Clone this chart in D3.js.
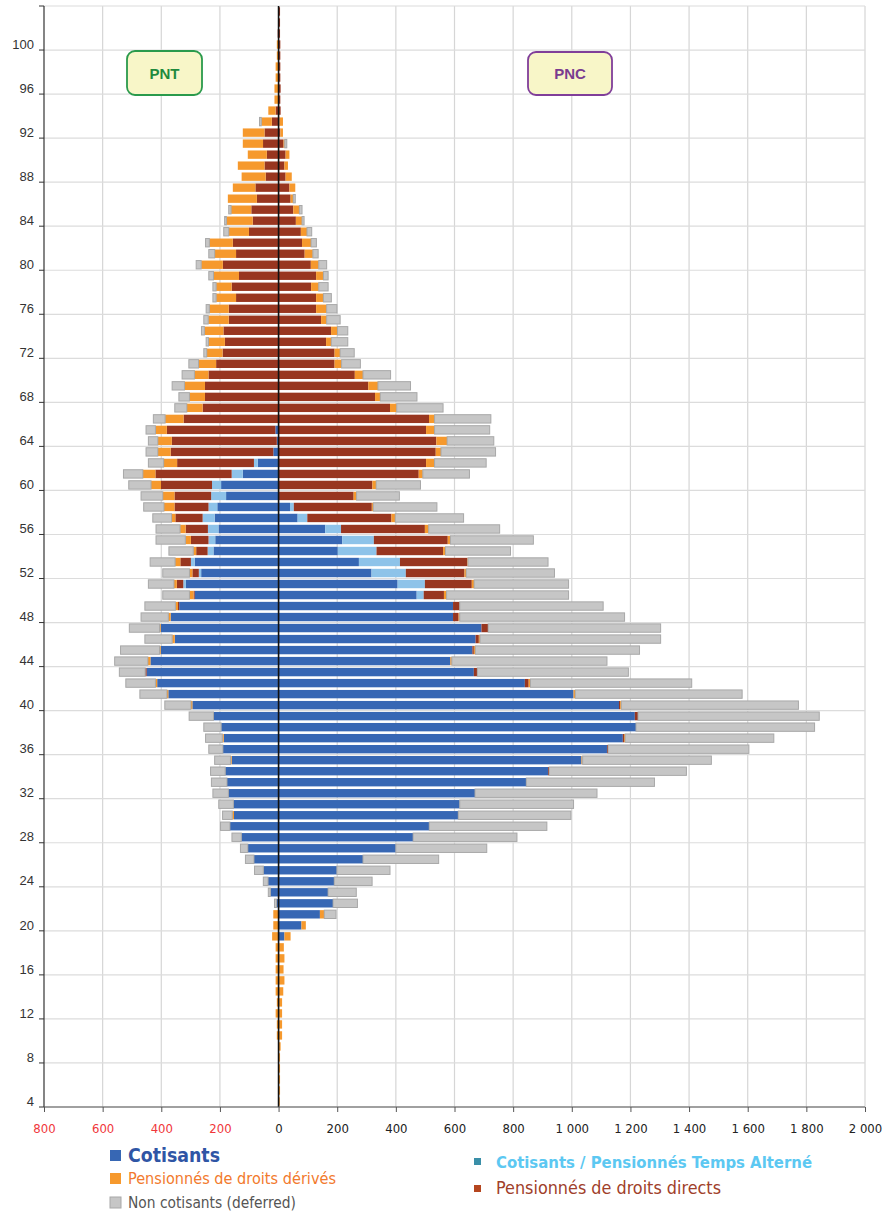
<!DOCTYPE html>
<html lang="fr">
<head>
<meta charset="UTF-8">
<title>Pyramide des âges PNT / PNC</title>
<script src="https://d3js.org/d3.v7.min.js"></script>
<style>
  body { margin: 0; background: #fff; }
  svg { display: block; font-family: "Liberation Sans", Arial, sans-serif; }
  .narrow { font-family: "Liberation Sans Narrow", "DejaVu Sans Condensed", "Liberation Sans", sans-serif; font-stretch: condensed; }
</style>
</head>
<body>
<div id="chart"></div>
<script>
// ages 4 .. 103, bottom to top
const ages = d3.range(4, 104);
const xTicks = [-800, -600, -400, -200, 0, 200, 400, 600, 800, 1000, 1200, 1400, 1600, 1800, 2000];
const ageTicks = [4, 8, 12, 16, 20, 24, 28, 32, 36, 40, 44, 48, 52, 56, 60, 64, 68, 72, 76, 80, 84, 88, 92, 96, 100];

// PNC (right side), one value per age, rows of 10 ages starting at 4
const pncCotisants = [
  0,0,0,0,0,0,0,0,0,0,
  0,0,0,0,0,20,78,141,186,169,
  190,199,288,400,459,514,613,618,670,845,
  919,1033,1120,1174,1219,1215,1161,1006,840,666,
  586,661,672,692,595,595,471,406,317,274,
  202,217,159,65,39,0,0,0,0,0,
  0,0,0,0,0,0,0,0,0,0,
  0,0,0,0,0,0,0,0,0,0,
  0,0,0,0,0,0,0,0,0,0,
  0,0,0,0,0,0,0,0,0,0];
const pncAlterne = [
  0,0,0,0,0,0,0,0,0,0,
  0,0,0,0,0,0,0,0,0,0,
  0,0,0,0,0,0,0,0,0,0,
  0,0,0,0,0,0,0,0,0,0,
  0,0,0,0,0,0,24,93,117,140,
  132,108,54,33,13,0,0,0,0,0,
  0,0,0,0,0,0,0,0,0,0,
  0,0,0,0,0,0,0,0,0,0,
  0,0,0,0,0,0,0,0,0,0,
  0,0,0,0,0,0,0,0,0,0];
const pncDirects = [
  0,0,0,0,0,0,0,0,0,0,
  0,0,0,0,0,0,0,0,0,0,
  0,0,0,0,0,0,0,0,0,0,
  4,0,4,4,0,11,4,0,13,12,
  0,5,11,23,19,23,69,160,200,230,
  227,252,286,287,266,256,320,478,503,536,
  538,503,513,380,329,306,260,191,191,162,
  179,145,128,128,111,128,110,89,80,76,
  59,50,41,37,24,20,24,17,6,3,
  7,6,7,6,6,6,6,5,5,5];
const pncDerives = [
  4,5,5,5,5,7,12,12,12,12,
  16,20,17,20,18,21,15,15,0,0,
  0,0,0,0,0,0,0,0,0,0,
  0,4,0,4,0,0,4,6,6,0,
  5,5,4,0,4,0,9,8,6,2,
  8,9,13,13,5,10,13,14,29,18,
  37,29,19,23,18,33,28,24,19,18,
  22,19,36,25,26,25,27,28,31,21,
  21,21,9,20,21,12,13,4,9,12,
  0,0,0,0,0,0,0,0,0,0];
const pncNonCotisants = [
  0,0,0,0,0,0,0,0,0,0,
  0,0,0,0,0,0,0,40,83,96,
  129,181,258,310,354,401,384,388,416,437,
  468,439,480,507,609,618,604,569,550,515,
  529,560,616,588,562,489,416,322,301,273,
  222,283,242,233,217,146,151,159,176,186,
  159,188,192,158,125,111,94,64,48,56,
  35,46,35,27,32,16,27,18,18,16,
  7,9,7,0,0,0,0,7,0,0,
  0,0,0,0,0,0,0,0,0,0];

// PNT (left side)
const pntCotisants = [
  0,0,0,0,0,0,0,0,0,0,
  0,0,0,0,0,0,0,0,7,28,
  36,52,84,105,127,166,152,154,171,176,
  182,160,190,187,196,222,294,376,414,450,
  437,402,354,402,368,339,286,316,264,286,
  222,216,205,218,209,179,196,122,71,18,
  6,11,0,0,0,0,0,0,0,0,
  0,0,0,0,0,0,0,0,0,0,
  0,0,0,0,0,0,0,0,0,0,
  0,0,0,0,0,0,0,0,0,0];
const pntAlterne = [
  0,0,0,0,0,0,0,0,0,0,
  0,0,0,0,0,0,0,0,0,0,
  0,0,0,0,0,0,0,0,0,0,
  0,0,0,0,0,0,0,0,0,0,
  0,0,0,0,0,0,0,9,8,13,
  20,23,36,41,30,51,31,38,13,0,
  0,0,0,0,0,0,0,0,0,0,
  0,0,0,0,0,0,0,0,0,0,
  0,0,0,0,0,0,0,0,0,0,
  0,0,0,0,0,0,0,0,0,0];
const pntDirects = [
  0,0,0,0,0,0,0,0,0,0,
  0,0,0,0,0,0,0,0,0,0,
  0,0,0,0,0,0,0,0,0,0,
  0,0,0,0,0,0,0,0,0,5,
  0,0,0,0,0,4,4,22,22,36,
  39,60,76,93,116,125,174,260,262,350,
  358,370,324,259,251,251,239,213,191,183,
  188,170,170,145,160,135,190,145,156,101,
  88,93,74,79,44,48,40,53,48,23,
  10,0,0,0,0,0,0,3,2,2];
const pntDerives = [
  2,2,2,2,2,2,6,6,10,6,
  10,10,10,10,10,22,18,18,0,0,
  0,0,0,0,0,0,6,0,0,0,
  0,4,0,5,0,0,5,5,6,0,
  9,4,9,4,8,9,14,10,10,18,
  10,19,19,13,36,40,34,43,46,44,
  48,39,63,54,53,70,48,60,54,56,
  65,70,66,68,53,87,74,73,80,69,
  90,69,99,77,82,91,65,69,74,36,
  25,14,14,10,10,6,6,0,0,0];
const pntNonCotisants = [
  0,0,0,0,0,0,0,0,0,0,
  0,0,0,0,0,0,0,0,7,7,
  16,30,29,25,32,32,33,50,53,53,
  50,54,48,57,59,83,89,92,101,88,
  113,133,93,103,93,104,91,87,91,85,
  83,100,82,64,69,74,76,66,52,40,
  32,32,40,41,36,42,42,33,10,8,
  10,15,11,11,11,16,17,20,13,17,
  6,8,0,0,0,0,0,0,0,6,
  0,0,0,0,0,0,0,0,0,0];

const keys = ["cot", "alt", "dir", "der", "non"];
const fill = { cot: "#3767b4", alt: "#8ec3e9", dir: "#983620", der: "#f6992d", non: "#c6c6c6" };

const W = 894, H = 1211;
const svg = d3.select("#chart").append("svg").attr("width", W).attr("height", H);

const x = d3.scaleLinear().domain([-800, 2000]).range([44, 865]);
const y = d3.scaleBand().domain(ages).range([1107, 6]).paddingInner(0.24).paddingOuter(0.12);
const step = y.step();

// gridlines
const grid = svg.append("g");
grid.selectAll("line.v").data(xTicks.slice(1)).enter().append("line")
  .attr("x1", d => x(d)).attr("x2", d => x(d)).attr("y1", 6).attr("y2", 1107)
  .attr("stroke", "#d6d6d6").attr("stroke-width", 1.2);
const hLines = d3.range(0, 26).map(k => 1107 - k * 4 * step);
grid.selectAll("line.h").data(hLines).enter().append("line")
  .attr("x1", 44).attr("x2", 865).attr("y1", d => d).attr("y2", d => d)
  .attr("stroke", "#dcdcdc").attr("stroke-width", 1.2);

function rows(c, a, d, r, n) {
  return ages.map((age, i) => ({ age, cot: c[i], alt: a[i], dir: d[i], der: r[i], non: n[i] }));
}
const stack = d3.stack().keys(keys);
const right = stack(rows(pncCotisants, pncAlterne, pncDirects, pncDerives, pncNonCotisants));
const left = stack(rows(pntCotisants, pntAlterne, pntDirects, pntDerives, pntNonCotisants));

function drawSide(series, sign) {
  const g = svg.append("g");
  series.forEach(s => {
    const isGrey = s.key === "non";
    g.selectAll(null).data(s.filter(d => d[1] - d[0] > 0)).enter().append("rect")
      .attr("x", d => sign > 0 ? x(d[0]) : x(-d[1]))
      .attr("width", d => Math.abs(x(d[1]) - x(d[0])))
      .attr("y", d => y(d.data.age))
      .attr("height", y.bandwidth())
      .attr("fill", fill[s.key])
      .attr("stroke", isGrey ? "#a8a8a8" : "none")
      .attr("stroke-width", isGrey ? 1 : 0);
  });
}
drawSide(left, -1);
drawSide(right, 1);

// zero line
svg.append("line").attr("x1", x(0)).attr("x2", x(0)).attr("y1", 6).attr("y2", 1107)
  .attr("stroke", "#111").attr("stroke-width", 1.6);

// axes lines
svg.append("line").attr("x1", 44).attr("x2", 44).attr("y1", 6).attr("y2", 1107).attr("stroke", "#333").attr("stroke-width", 1.2);
svg.append("line").attr("x1", 44).attr("x2", 865).attr("y1", 1107).attr("y2", 1107).attr("stroke", "#555").attr("stroke-width", 1.2);

// x ticks
const fmt = v => { v = Math.abs(v); return v >= 1000 ? Math.floor(v / 1000) + " " + String(v % 1000).padStart(3, "0") : String(v); };
const xAxis = svg.append("g").attr("transform", "translate(0,1107)")
  .call(d3.axisBottom(x).tickValues(xTicks).tickSize(5).tickPadding(12).tickFormat(fmt));
xAxis.select(".domain").remove();
xAxis.selectAll("line").attr("stroke", "#555");
xAxis.selectAll("text").attr("class", "narrow").attr("font-size", 13)
  .attr("fill", d => d < 0 ? "#f0363a" : "#222");

// y ticks (labels centred on categories, tick marks at gridlines)
const yAxis = svg.append("g").attr("transform", "translate(44,0)")
  .call(d3.axisLeft(y).tickValues(ageTicks).tickSize(0).tickPadding(10));
yAxis.select(".domain").remove();
yAxis.selectAll("text").attr("font-size", 13).attr("fill", "#333");
svg.selectAll("line.yt").data(hLines).enter().append("line")
  .attr("x1", 39).attr("x2", 44).attr("y1", d => d).attr("y2", d => d).attr("stroke", "#333");

// side labels
function tag(x0, y0, w, h, stroke, color, label) {
  svg.append("rect").attr("x", x0).attr("y", y0).attr("width", w).attr("height", h)
    .attr("rx", 8).attr("fill", "#f8f6c8").attr("stroke", stroke).attr("stroke-width", 1.8);
  svg.append("text").attr("x", x0 + w / 2).attr("y", y0 + h / 2 + 5.5).attr("text-anchor", "middle")
    .attr("font-size", 15).attr("font-weight", "bold").attr("fill", color).text(label);
}
tag(127, 51, 75, 44, "#2a9a4c", "#1f8a3e", "PNT");
tag(528, 52, 84, 43, "#803e99", "#7a3c90", "PNC");

// legend
const legend = [
  { x: 110, y: 1150, s: 11, tx: 128, ty: 1162, len: 92, text: "Cotisants", color: "#2f55a5", size: 20, bold: true, sw: "#3767b4" },
  { x: 110, y: 1173, s: 11, tx: 128, ty: 1184, len: 208, text: "Pensionnés de droits dérivés", color: "#f27a2d", size: 15.5, bold: false, sw: "#f6992d" },
  { x: 110, y: 1197, s: 11, tx: 128, ty: 1208, len: 168, text: "Non cotisants (deferred)", color: "#555", size: 15, bold: false, sw: "#c6c6c6" },
  { x: 474, y: 1158, s: 7, tx: 496, ty: 1168, len: 316, text: "Cotisants / Pensionnés Temps Alterné", color: "#5cc8f2", size: 16, bold: true, sw: "#3a8fa8" },
  { x: 474, y: 1185, s: 7, tx: 496, ty: 1194, len: 225, text: "Pensionnés de droits directs", color: "#a0402a", size: 17, bold: false, sw: "#b5461f" }
];
legend.forEach(l => {
  svg.append("rect").attr("x", l.x).attr("y", l.y).attr("width", l.s).attr("height", l.s)
    .attr("fill", l.sw).attr("stroke", l.sw === "#c6c6c6" ? "#a8a8a8" : "none");
  svg.append("text").attr("class", "narrow").attr("x", l.tx).attr("y", l.ty)
    .attr("font-size", l.size).attr("font-weight", l.bold ? "bold" : "normal")
    .attr("textLength", l.len).attr("lengthAdjust", "spacingAndGlyphs")
    .attr("fill", l.color).text(l.text);
});
</script>
</body>
</html>
